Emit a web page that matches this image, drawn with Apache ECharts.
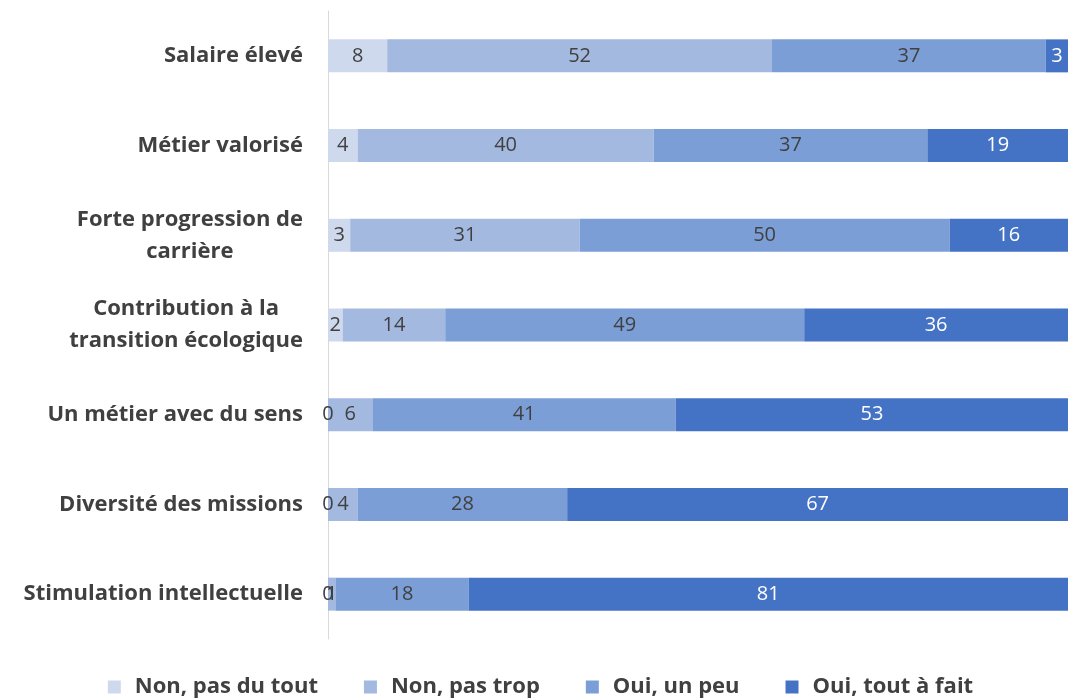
<!DOCTYPE html>
<html style="height: 100%">
<head>
    <meta charset="utf-8">
</head>
<body style="height: 100%; margin: 0; background: #fff">
<div id="container" style="width: 1081px; height: 698px"></div>

<script type="text/javascript" src="https://cdn.jsdelivr.net/npm/echarts@6/dist/echarts.min.js"></script>
<script type="text/javascript">
    var dom = document.getElementById("container");
    var myChart = echarts.init(dom);

    // categories, bottom to top (echarts draws category axis from the bottom)
    var categories = [
        'Stimulation intellectuelle',
        'Diversité des missions',
        'Un métier avec du sens',
        'Contribution à la\ntransition écologique',
        'Forte progression de\ncarrière',
        'Métier valorisé',
        'Salaire élevé'
    ];
    var seriesNames = ['Non, pas du tout', 'Non, pas trop', 'Oui, un peu', 'Oui, tout à fait'];
    var nonPasDuTout = [0, 0, 0, 2, 3, 4, 8];
    var nonPasTrop   = [1, 4, 6, 14, 31, 40, 52];
    var ouiUnPeu     = [18, 28, 41, 49, 50, 37, 37];
    var ouiToutAFait = [81, 67, 53, 36, 16, 19, 3];
    var colors = ['#CFD9EE', '#A3B9E0', '#7C9ED6', '#4472C4'];

    var font = '"Open Sans", sans-serif';
    var allValues = [nonPasDuTout, nonPasTrop, ouiUnPeu, ouiToutAFait];

    // 100% stacked: each row is scaled to its total, labels keep the rounded values
    var totals = categories.map(function (c, j) {
        return allValues.reduce(function (s, vals) { return s + vals[j]; }, 0);
    });

    var series = allValues.map(function (vals, i) {
        return {
            name: seriesNames[i],
            type: 'bar',
            stack: 'total',
            barWidth: 33,
            data: vals.map(function (v, j) {
                return { value: v * 100 / totals[j], raw: v };
            }),
            itemStyle: { color: colors[i] },
            label: {
                show: true,
                position: 'inside',
                color: i === 3 ? '#ffffff' : '#404040',
                fontFamily: font,
                fontSize: 20,
                formatter: function (p) { return p.data.raw; }
            }
        };
    });

    var option = {
        animation: false,
        color: colors,
        grid: { left: 328, right: 13, top: 11, bottom: 59 },
        legend: {
            top: 671,
            left: 'center',
            itemWidth: 13,
            itemHeight: 13,
            itemGap: 46,
            icon: 'rect',
            textStyle: {
                fontFamily: font, fontSize: 22, fontWeight: 'bold', color: '#404040',
                padding: [0, 0, 0, 9]
            },
            data: seriesNames
        },
        xAxis: {
            type: 'value',
            min: 0,
            max: 100,
            show: false
        },
        yAxis: {
            type: 'category',
            data: categories,
            axisLine: { show: true, lineStyle: { color: '#D9D9D9', width: 1 } },
            axisTick: { show: false },
            axisLabel: {
                margin: 25,
                fontFamily: font,
                fontSize: 22,
                fontWeight: 'bold',
                color: '#404040',
                lineHeight: 32,
                formatter: function (v) {
                    return v.split('\n').map(function (s) { return '{c|' + s + '}'; }).join('\n');
                },
                rich: {
                    c: {
                        align: 'center',
                        fontFamily: font,
                        fontSize: 22,
                        fontWeight: 'bold',
                        color: '#404040',
                        lineHeight: 32
                    }
                }
            }
        },
        series: series
    };

    myChart.setOption(option);
</script>
</body>
</html>
